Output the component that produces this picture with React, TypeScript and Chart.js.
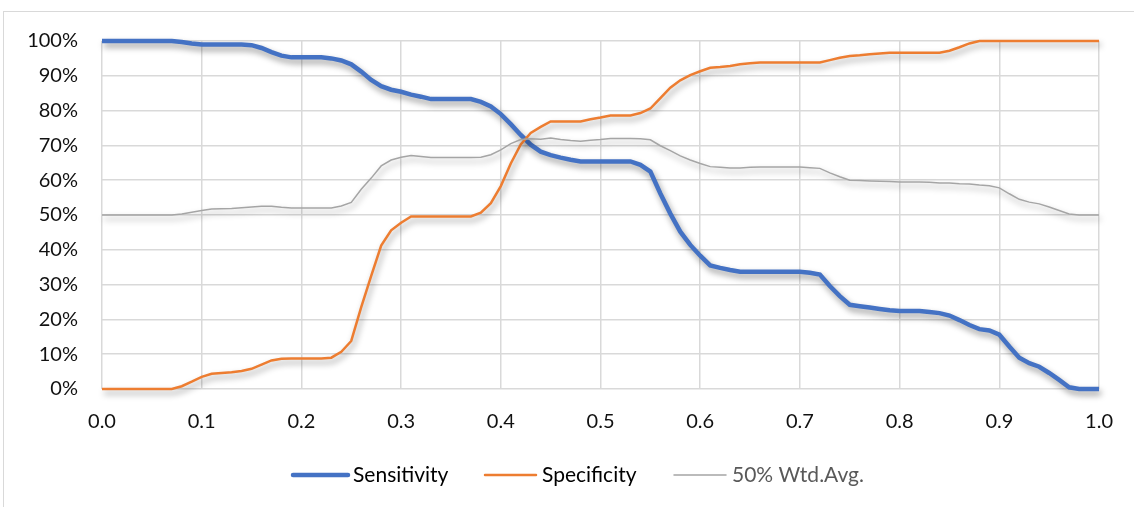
import { useEffect, useRef } from 'react';
import { Chart, registerables } from 'chart.js';

Chart.register(...registerables);

// Cut-off thresholds (x axis)
const thresholds = [
  0.0, 0.01, 0.02, 0.03, 0.04, 0.05, 0.06, 0.07, 0.08, 0.09,
  0.1, 0.11, 0.12, 0.13, 0.14, 0.15, 0.16, 0.17, 0.18, 0.19,
  0.2, 0.21, 0.22, 0.23, 0.24, 0.25, 0.26, 0.27, 0.28, 0.29,
  0.3, 0.31, 0.32, 0.33, 0.34, 0.35, 0.36, 0.37, 0.38, 0.39,
  0.4, 0.41, 0.42, 0.43, 0.44, 0.45, 0.46, 0.47, 0.48, 0.49,
  0.5, 0.51, 0.52, 0.53, 0.54, 0.55, 0.56, 0.57, 0.58, 0.59,
  0.6, 0.61, 0.62, 0.63, 0.64, 0.65, 0.66, 0.67, 0.68, 0.69,
  0.7, 0.71, 0.72, 0.73, 0.74, 0.75, 0.76, 0.77, 0.78, 0.79,
  0.8, 0.81, 0.82, 0.83, 0.84, 0.85, 0.86, 0.87, 0.88, 0.89,
  0.9, 0.91, 0.92, 0.93, 0.94, 0.95, 0.96, 0.97, 0.98, 0.99,
  1.0,
];

// Sensitivity (%) at each threshold
const sensitivity = [
  100, 100, 100, 100, 100, 100, 100, 100, 99.7, 99.3,
  99.0, 99.0, 99.0, 99.0, 99.0, 98.8, 98.0, 96.8, 95.8, 95.3,
  95.3, 95.3, 95.3, 95.0, 94.4, 93.3, 91.2, 88.8, 87.0, 86.0,
  85.4, 84.6, 84.0, 83.3, 83.3, 83.3, 83.3, 83.3, 82.5, 81.2,
  79.0, 76.1, 73.0, 70.2, 68.2, 67.2, 66.5, 65.9, 65.4, 65.4,
  65.4, 65.4, 65.4, 65.4, 64.4, 62.5, 56.2, 50.4, 45.2, 41.4,
  38.3, 35.5, 34.8, 34.2, 33.7, 33.7, 33.7, 33.7, 33.7, 33.7,
  33.7, 33.4, 32.9, 29.6, 26.7, 24.2, 23.8, 23.4, 23.0, 22.6,
  22.4, 22.4, 22.4, 22.1, 21.8, 21.1, 19.8, 18.4, 17.2, 16.8,
  15.6, 12.2, 9.0, 7.4, 6.4, 4.6, 2.6, 0.5, 0, 0,
  0,
];

// Specificity (%) at each threshold
const specificity = [
  0, 0, 0, 0, 0, 0, 0, 0, 0.8, 2.1,
  3.5, 4.4, 4.6, 4.8, 5.2, 5.8, 7.0, 8.2, 8.7, 8.8,
  8.8, 8.8, 8.8, 9.0, 10.7, 13.8, 23.5, 32.5, 41.2, 45.6,
  47.8, 49.6, 49.6, 49.6, 49.6, 49.6, 49.6, 49.6, 50.7, 53.4,
  58.3, 64.8, 70.3, 73.6, 75.3, 76.9, 76.9, 76.9, 76.9, 77.5,
  78.0, 78.6, 78.6, 78.6, 79.3, 80.6, 83.6, 86.6, 88.7, 90.2,
  91.3, 92.3, 92.5, 92.8, 93.3, 93.6, 93.8, 93.8, 93.8, 93.8,
  93.8, 93.8, 93.8, 94.5, 95.2, 95.7, 95.9, 96.2, 96.4, 96.6,
  96.6, 96.6, 96.6, 96.6, 96.6, 97.2, 98.2, 99.3, 100, 100,
  100, 100, 100, 100, 100, 100, 100, 100, 100, 100,
  100,
];

// 50% weighted average (%) at each threshold
const weightedAvg = [
  50, 50, 50, 50, 50, 50, 50, 50, 50.3, 50.8,
  51.3, 51.7, 51.8, 51.9, 52.1, 52.3, 52.5, 52.5, 52.2, 52.0,
  52.0, 52.0, 52.0, 52.0, 52.6, 53.6, 57.4, 60.6, 64.1, 65.8,
  66.6, 67.1, 66.8, 66.5, 66.5, 66.5, 66.5, 66.5, 66.6, 67.3,
  68.7, 70.5, 71.7, 71.9, 71.8, 72.1, 71.7, 71.4, 71.2, 71.5,
  71.7, 72.0, 72.0, 72.0, 71.9, 71.6, 69.9, 68.5, 67.0, 65.8,
  64.8, 63.9, 63.7, 63.5, 63.5, 63.7, 63.8, 63.8, 63.8, 63.8,
  63.8, 63.6, 63.4, 62.1, 61.0, 60.0, 59.9, 59.8, 59.7, 59.6,
  59.5, 59.5, 59.5, 59.4, 59.2, 59.2, 59.0, 58.9, 58.6, 58.4,
  57.8, 56.1, 54.5, 53.7, 53.2, 52.3, 51.3, 50.3, 50, 50,
  50,
];

const seriesNames = ['Sensitivity', 'Specificity', '50% Wtd.Avg.'];
const seriesColors = ['#4472C4', '#ED7D31', '#A5A5A5'];
const seriesWidths = [4.5, 2.5, 1.5];
const legendTextColors = ['#000000', '#000000', '#595959'];

const FONT = 'Lato, "Open Sans", "DejaVu Sans", sans-serif';

// Soft drop shadow under each plotted line
const lineShadow = {
  id: 'lineShadow',
  beforeDatasetDraw(chart: any) {
    const ctx = chart.ctx;
    ctx.save();
    ctx.shadowColor = 'rgba(0,0,0,0.4)';
    ctx.shadowBlur = 6;
    ctx.shadowOffsetX = 2;
    ctx.shadowOffsetY = 4;
  },
  afterDatasetDraw(chart: any) {
    chart.ctx.restore();
  },
};

// Legend row under the x axis
const legendRow = {
  id: 'legendRow',
  afterDraw(chart: any) {
    const ctx = chart.ctx;
    const y = 475;
    const items = [
      { x1: 293, x2: 348, tx: 353 },
      { x1: 485, x2: 536, tx: 542 },
      { x1: 674, x2: 726, tx: 732 },
    ];
    ctx.save();
    items.forEach((it, i) => {
      ctx.beginPath();
      ctx.strokeStyle = seriesColors[i];
      ctx.lineWidth = seriesWidths[i];
      ctx.lineCap = 'round';
      ctx.moveTo(it.x1, y);
      ctx.lineTo(it.x2, y);
      ctx.stroke();
      ctx.fillStyle = legendTextColors[i];
      ctx.font = `21px ${FONT}`;
      ctx.textAlign = 'left';
      ctx.textBaseline = 'middle';
      ctx.fillText(seriesNames[i], it.tx, y);
    });
    ctx.restore();
  },
};

export default function App() {
  const canvasRef = useRef<HTMLCanvasElement | null>(null);

  useEffect(() => {
    if (!canvasRef.current) return;
    const series = [sensitivity, specificity, weightedAvg];
    const chart = new Chart(canvasRef.current, {
      type: 'line',
      data: {
        datasets: series.map((values, i) => ({
          label: seriesNames[i],
          data: thresholds.map((t, j) => ({ x: t, y: values[j] })),
          borderColor: seriesColors[i],
          backgroundColor: seriesColors[i],
          borderWidth: seriesWidths[i],
          pointRadius: 0,
          tension: 0,
          clip: false,
          order: 3 - i,
        })),
      },
      options: {
        animation: false,
        responsive: false,
        devicePixelRatio: 1,
        layout: { padding: { left: 0, top: 41, right: 33, bottom: 68 } },
        plugins: {
          legend: { display: false },
          tooltip: { enabled: false },
        },
        scales: {
          x: {
            type: 'linear',
            min: 0,
            max: 1,
            afterFit: (scale: any) => {
              scale.height = 50;
            },
            ticks: {
              stepSize: 0.1,
              padding: 21,
              color: '#111111',
              font: { family: FONT, size: 20 },
              callback: (v: any) => Number(v).toFixed(1),
            },
            grid: { color: '#d9d9d9', lineWidth: 1.5, drawTicks: false },
            border: { display: false },
          },
          y: {
            min: 0,
            max: 100,
            afterFit: (scale: any) => {
              scale.width = 102;
            },
            ticks: {
              stepSize: 10,
              padding: 24,
              color: '#111111',
              font: { family: FONT, size: 20 },
              callback: (v: any) => `${v}%`,
            },
            grid: { color: '#d9d9d9', lineWidth: 1.5, drawTicks: false },
            border: { display: false },
          },
        },
      },
      plugins: [lineShadow, legendRow],
    });
    return () => chart.destroy();
  }, []);

  return (
    <div
      style={{
        position: 'absolute',
        left: 0,
        top: 0,
        width: 1134,
        height: 507,
        overflow: 'hidden',
        background: '#ffffff',
      }}
    >
      <div
        style={{
          position: 'absolute',
          left: 3,
          top: 11,
          width: 1150,
          height: 520,
          border: '1px solid #d9d9d9',
          boxSizing: 'border-box',
        }}
      />
      <canvas
        ref={canvasRef}
        width={1134}
        height={507}
        style={{ position: 'absolute', left: 0, top: 0 }}
      />
    </div>
  );
}
